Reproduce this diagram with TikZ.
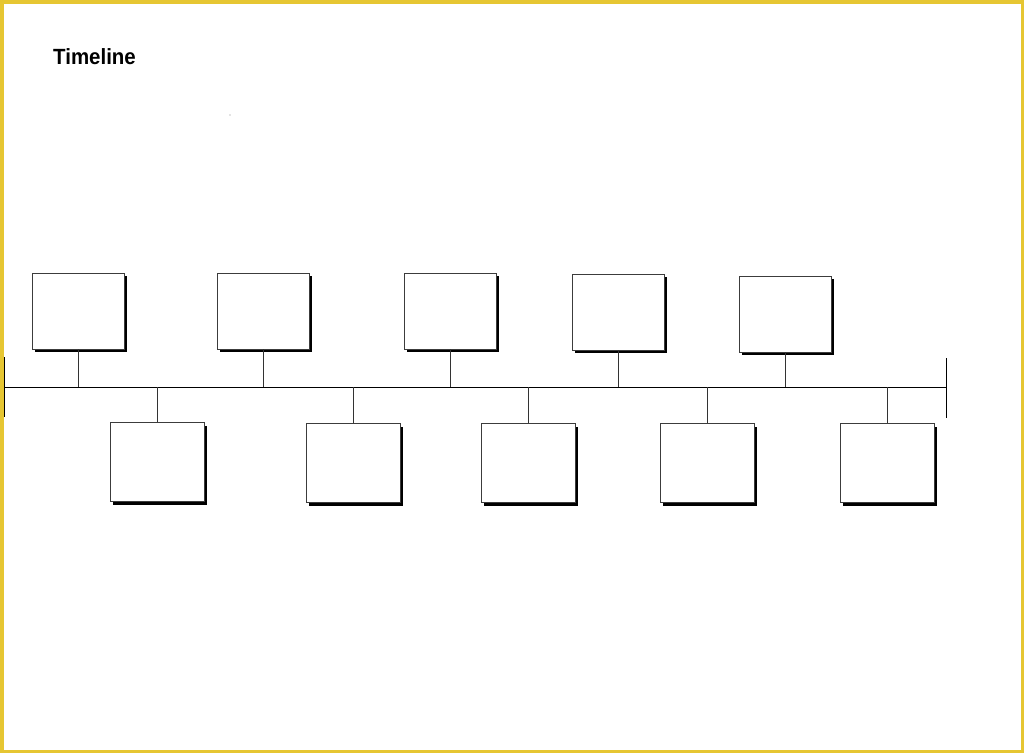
\documentclass[tikz,border=0pt]{standalone}
\usepackage{fontspec}
\setmainfont{Liberation Sans}
\usetikzlibrary{calc}
\usetikzlibrary{shadows}
\definecolor{frameyellow}{RGB}{230,198,50}
\definecolor{boxline}{RGB}{60,60,60}

\tikzset{
    eventbox/.style={draw=boxline, line width=0.9pt, fill=white, inner sep=0pt,
        drop shadow={shadow xshift=3pt, shadow yshift=-3pt, fill=black, opacity=1}},
    upbox/.style={eventbox, minimum width=92pt, minimum height=76pt},
    downbox/.style={eventbox, minimum width=94pt, minimum height=79pt},
    stem/.style={draw=black!80, line width=0.8pt}
}

\begin{document}
\begin{tikzpicture}[x=1pt, y=-1pt]
    \useasboundingbox (0,0) rectangle (1024,753);
    \fill[white] (0,0) rectangle (1024,753);
    \draw[frameyellow, line width=3.5pt] (1.75,1.75) rectangle (1022.25,751.25); % page frame
    \node[anchor=base west, font=\bfseries\fontsize{22}{26}\selectfont, xscale=0.93, inner sep=0pt] (title) at (53,64) {Timeline};
    \fill[black!45] (230,115) circle (0.6pt);
    % time axis
    \coordinate (axisL) at (4,387);
    \coordinate (axisR) at (946,387);
    \draw[line width=0.9pt] (axisL) -- (axisR);
    \draw[line width=0.9pt] ($(axisL)+(0,-30)$) -- ($(axisL)+(0,30)$);
    \draw[line width=0.9pt] ($(axisR)+(0,-29)$) -- ($(axisR)+(0,31)$);
    % boxes above the axis
    \foreach \x/\y/\n in {78/311/t1, 263/311/t2, 450/311/t3, 618/312/t4, 785/314/t5} {
        \node[upbox] (\n) at (\x,\y) {};
        \draw[stem] (\n.south) -- (\n.south |- axisL);
    }
    % boxes below the axis
    \foreach \x/\y/\n in {157/462/b1, 353/463/b2, 528/463/b3, 707/463/b4, 887/463/b5} {
        \node[downbox] (\n) at (\x,\y) {};
        \draw[stem] (\n.north |- axisL) -- (\n.north);
    }
\end{tikzpicture}
\end{document}
